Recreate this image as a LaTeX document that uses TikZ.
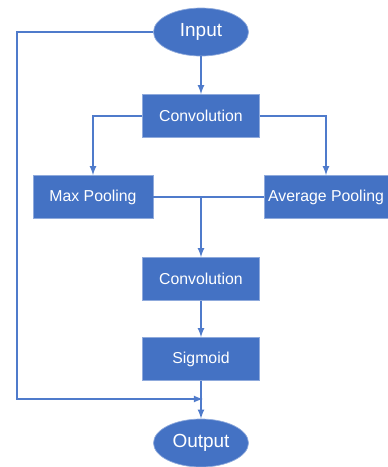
\documentclass[tikz,border=0pt]{standalone}
\usepackage{fontspec}
\setmainfont{Liberation Sans}
\usetikzlibrary{shapes.geometric}
\definecolor{boxblue}{HTML}{4472C4}
\definecolor{lineblue}{HTML}{4F7BCB}
\tikzset{>=latex}
\tikzset{block/.style = {fill = boxblue, draw = boxblue!60!white, text = white, font = \fontsize{9}{11}\selectfont, minimum width = 2.34cm, minimum height = 0.86cm, inner sep = 0pt}}
\tikzset{terminal/.style = {ellipse, fill = boxblue, draw = boxblue!60!white, text = white, font = \fontsize{10.8}{13}\selectfont, minimum width = 1.9cm, minimum height = 0.96cm, inner sep = 0pt}}
\tikzset{flow/.style = {draw = lineblue, line width = 0.8pt}}

\begin{document}
\begin{tikzpicture}
	\useasboundingbox (0, 0) rectangle (7.76, -9.34);
	\node[terminal] (input) at (4.02, -0.64) {Input};
	\node[block] (conv1) at (4.02, -2.32) {Convolution};
	\node[block, minimum width = 2.4cm] (maxpool) at (1.86, -3.94) {Max Pooling};
	\node[block, minimum width = 2.48cm] (avgpool) at (6.52, -3.94) {Average Pooling};
	\node[block] (conv2) at (4.02, -5.58) {Convolution};
	\node[block] (sigmoid) at (4.02, -7.18) {Sigmoid};
	\node[terminal] (output) at (4.02, -8.86) {Output};
	\coordinate (merge) at (conv2 |- maxpool);
	\coordinate (skip) at (4.06, -7.98);
	\draw[flow, ->] (input) -- (conv1);
	\draw[flow, ->] (conv1.west) -| (maxpool.north);
	\draw[flow, ->] (conv1.east) -| (avgpool.north);
	\draw[flow] (maxpool.east) -- (avgpool.west);
	\draw[flow, ->] (merge) -- (conv2);
	\draw[flow, ->] (conv2) -- (sigmoid);
	\draw[flow, ->] (sigmoid) -- (output);
	\draw[flow, ->] (input.west) -- (0.34, -0.64) -- (0.34, -7.98) -- (skip);
\end{tikzpicture}
\end{document}
